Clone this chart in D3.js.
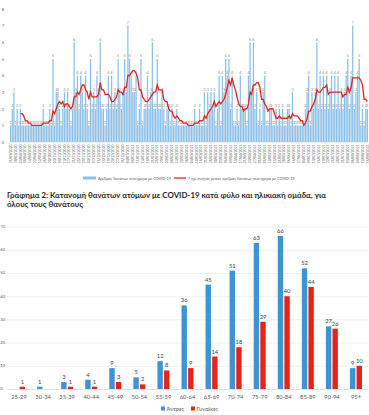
<!DOCTYPE html>
<html lang="el">
<head>
<meta charset="utf-8">
<title>COVID-19 deaths</title>
<script src="https://d3js.org/d3.v7.min.js"></script>
<style>
  body { margin: 0; background: #fff; }
  svg text { font-family: Lato, "Open Sans", sans-serif; }
</style>
</head>
<body>
<script>
// ---- Chart 1: daily deaths (only days with deaths) + 7-day moving average
const dailyDeaths = [
  1,2,3,1,2,1,2,1,1,1,
  1,1,1,1,1,1,1,1,1,1,
  2,1,1,1,2,1,5,1,3,3,
  2,1,2,3,2,3,2,1,2,6,
  3,4,2,4,3,2,4,2,1,5,
  2,3,2,4,3,6,2,2,1,2,
  4,2,4,2,3,2,5,3,2,3,
  5,3,7,5,4,3,3,4,1,2,
  5,1,2,2,4,2,3,6,2,2,
  5,2,2,3,2,1,2,2,1,2,
  1,1,2,1,1,1,1,1,1,1,
  1,1,1,2,1,1,2,1,1,3,
  1,3,2,3,2,3,1,2,4,1,
  4,3,5,4,5,2,4,1,1,2,
  1,4,2,2,2,1,4,6,3,6,
  2,3,1,2,1,3,4,1,1,2,
  2,1,1,2,1,2,1,2,1,1,
  2,2,1,3,1,1,1,1,1,1,
  1,2,3,4,1,3,2,3,6,2,
  4,2,4,2,4,2,3,4,2,4,
  2,4,2,3,2,3,4,5,2,4,
  7,2,3,4,5,1,2,1,2,2
];

const movingAvg = [
  null,null,null,null,null,null,1.71,1.71,1.57,1.29,
  1.29,1.14,1.14,1.00,1.00,1.00,1.00,1.00,1.00,1.00,
  1.14,1.14,1.14,1.14,1.29,1.29,1.86,1.71,2.00,2.29,
  2.43,2.29,2.43,2.14,2.29,2.29,2.14,2.00,2.14,2.71,
  2.71,3.00,2.86,3.14,3.43,3.43,3.14,3.00,2.57,3.00,
  2.71,2.71,2.71,2.71,2.86,3.57,3.14,3.14,2.86,2.86,
  2.86,2.71,2.43,2.43,2.57,2.71,3.14,3.00,3.00,2.86,
  3.29,3.29,4.00,4.00,4.14,4.29,4.29,4.14,3.86,3.14,
  3.14,2.71,2.57,2.43,2.43,2.57,2.71,2.86,3.00,3.00,
  3.43,3.14,3.14,3.14,2.57,2.43,2.43,2.00,1.86,1.86,
  1.57,1.43,1.57,1.43,1.29,1.29,1.14,1.14,1.14,1.00,
  1.00,1.00,1.00,1.14,1.14,1.14,1.29,1.29,1.29,1.57,
  1.43,1.71,1.86,2.00,2.14,2.43,2.14,2.29,2.43,2.29,
  2.43,2.57,2.86,3.29,3.71,3.43,3.86,3.43,3.14,2.71,
  2.29,2.14,2.14,1.86,2.00,2.00,2.29,3.00,2.86,3.43,
  3.43,3.57,3.57,3.29,2.57,2.57,2.29,2.14,1.86,2.00,
  2.00,2.00,1.71,1.43,1.43,1.57,1.43,1.43,1.43,1.43,
  1.43,1.57,1.43,1.71,1.57,1.57,1.57,1.43,1.29,1.29,
  1.00,1.14,1.43,1.86,1.86,2.14,2.29,2.57,3.14,3.00,
  3.00,3.14,3.29,3.29,3.43,2.86,3.00,3.00,3.00,3.00,
  3.00,3.00,3.00,3.00,2.71,2.86,2.86,3.29,3.00,3.29,
  3.86,3.86,3.86,3.86,3.86,3.71,3.43,2.57,2.57,2.43
];

// one date label for every third bar
const dateLabels = [
  "21/03/2020","28/03/2020","03/04/2020","08/04/2020","14/04/2020","22/04/2020","12/05/2020","26/06/2020","20/10/2020","03/11/2020",
  "09/11/2020","13/11/2020","17/11/2020","21/11/2020","25/11/2020","29/11/2020","03/12/2020","07/12/2020","11/12/2020","15/12/2020",
  "19/12/2020","23/12/2020","27/12/2020","31/12/2020","04/01/2021","08/01/2021","11/01/2021","14/01/2021","18/01/2021","21/01/2021",
  "25/01/2021","29/01/2021","03/02/2021","08/02/2021","14/02/2021","20/02/2021","26/02/2021","04/03/2021","10/03/2021","16/03/2021",
  "21/03/2021","26/03/2021","30/03/2021","03/04/2021","06/04/2021","09/04/2021","13/04/2021","17/04/2021","21/04/2021","24/04/2021",
  "27/04/2021","01/05/2021","05/05/2021","10/05/2021","15/05/2021","21/05/2021","28/05/2021","06/06/2021","16/06/2021","27/06/2021",
  "04/07/2021","09/07/2021","13/07/2021","16/07/2021","19/07/2021","22/07/2021","25/07/2021","28/07/2021","31/07/2021","03/08/2021",
  "06/08/2021","09/08/2021","12/08/2021","15/08/2021"
];
const dailyTicks = [0,1,2,3,4,5,6,7,8];
const legend1 = ["Αριθμός θανάτων ανά ημέρα με COVID-19", "7 ημ. κινητός μέσος αριθμός θανάτων ανά ημέρα με COVID-19"];

// ---- Chart 2: deaths by sex and age group
const title2 = ["Γράφημα 2: Κατανομή θανάτων ατόμων με COVID-19 κατά φύλο και ηλικιακή ομάδα, για",
                "όλους τους θανάτους"];
const ageGroups = ["25-29","30-34","35-39","40-44","45-49","50-54","55-59","60-64","65-69","70-74","75-79","80-84","85-89","90-94","95+"];
const men   = [0,1,3,4,9,5,12,36,45,51,63,66,52,27,9];
const women = [1,0,1,1,3,2,8,9,14,18,29,40,44,26,10];
const sexes = ["Άντρες", "Γυναίκες"];
const ageTicks = [0,10,20,30,40,50,60,70];

const BLUE_LIGHT = "#8ec0e6";
const RED = "#e8231c";
const BLUE = "#3f93d2";
const TEXT = "#595959";

const width = 369, height = 415;
const svg = d3.select("body").append("svg")
    .attr("width", width)
    .attr("height", height);

// ===== chart 1 =====
const idx = dailyDeaths.map((d, i) => i);
const x1 = d3.scaleBand().domain(idx).range([10, 368]).paddingInner(0.22);
const y1 = d3.scaleLinear().domain([0, 8]).range([142, 9]);

const g1 = svg.append("g");

g1.append("g")
    .attr("transform", "translate(5,0)")
    .call(d3.axisLeft(y1).tickValues(dailyTicks).tickSize(0).tickPadding(1))
    .call(g => g.select(".domain").remove())
    .call(g => g.selectAll("text").attr("fill", TEXT).style("font-size", "4px"));

g1.append("g").selectAll("rect")
    .data(dailyDeaths)
  .enter().append("rect")
    .attr("x", (d, i) => x1(i))
    .attr("y", d => y1(d))
    .attr("width", x1.bandwidth())
    .attr("height", d => y1(0) - y1(d))
    .attr("fill", BLUE_LIGHT);

g1.append("g").selectAll("text")
    .data(dailyDeaths)
  .enter().append("text")
    .attr("x", (d, i) => x1(i) + x1.bandwidth() / 2)
    .attr("y", d => y1(d) - 1.5)
    .attr("text-anchor", "middle")
    .attr("fill", "#7f7f7f")
    .style("font-size", "3.6px")
    .text(d => d);

const line1 = d3.line()
    .defined(d => d !== null)
    .x((d, i) => x1(i) + x1.bandwidth() / 2)
    .y(d => y1(d));

g1.append("path")
    .datum(movingAvg)
    .attr("d", line1)
    .attr("fill", "none")
    .attr("stroke", RED)
    .attr("stroke-width", 1.3);

g1.append("g")
    .attr("transform", "translate(0,142)")
    .call(d3.axisBottom(x1)
        .tickValues(idx.filter(i => i % 3 === 0))
        .tickFormat((d, i) => dateLabels[i])
        .tickSize(0))
    .call(g => g.select(".domain").attr("stroke", "#d9d9d9").attr("stroke-width", 0.5))
    .call(g => g.selectAll("text")
        .attr("fill", TEXT)
        .style("font-size", "3.4px")
        .attr("text-anchor", "end")
        .attr("transform", "rotate(-90)")
        .attr("x", -2.5)
        .attr("y", 0)
        .attr("dy", "0.35em"));

// legend chart 1
const lg1 = svg.append("g");
lg1.append("rect").attr("x", 83).attr("y", 176.5).attr("width", 13).attr("height", 3).attr("fill", BLUE_LIGHT);
lg1.append("text").attr("x", 98).attr("y", 179.5).attr("fill", TEXT).style("font-size", "3.8px").text(legend1[0]);
lg1.append("line").attr("x1", 174).attr("x2", 186).attr("y1", 178).attr("y2", 178)
    .attr("stroke", RED).attr("stroke-width", 1.3);
lg1.append("text").attr("x", 188).attr("y", 179.5).attr("fill", TEXT).style("font-size", "3.8px").text(legend1[1]);

// ===== chart 2 =====
svg.append("g").selectAll("text")
    .data(title2)
  .enter().append("text")
    .attr("x", 7)
    .attr("y", (d, i) => 197.5 + i * 9)
    .attr("fill", "#1f1f1f")
    .style("font-size", "7.9px")
    .style("font-weight", "bold")
    .text(d => d);

const x2 = d3.scaleBand().domain(ageGroups).range([7, 368]);
const y2 = d3.scaleLinear().domain([0, 70]).range([389, 226.6]);

const g2 = svg.append("g");

// gridlines
g2.append("g")
    .attr("transform", "translate(6,0)")
    .call(d3.axisLeft(y2).tickValues(ageTicks).tickSize(-362).tickFormat(""))
    .call(g => g.select(".domain").remove())
    .call(g => g.selectAll("line").attr("stroke", "#e4e4e4").attr("stroke-width", 0.6));

// tick labels kept inside the left edge
g2.append("g").selectAll("text")
    .data(ageTicks)
  .enter().append("text")
    .attr("x", 0.3)
    .attr("y", d => y2(d))
    .attr("dy", "0.35em")
    .attr("fill", TEXT)
    .style("font-size", "4.2px")
    .text(d => d);

const series = [
  { name: sexes[0], values: men, color: BLUE, dx: -6 },
  { name: sexes[1], values: women, color: RED, dx: 0.6 }
];
const barW = 5.4;

series.forEach(s => {
  const rows = s.values.map((v, i) => ({ age: ageGroups[i], v: v }));
  const gs = g2.append("g");
  gs.selectAll("rect")
      .data(rows)
    .enter().append("rect")
      .attr("x", d => x2(d.age) + x2.bandwidth() / 2 + s.dx)
      .attr("y", d => y2(d.v))
      .attr("width", barW)
      .attr("height", d => y2(0) - y2(d.v))
      .attr("fill", s.color);
  gs.selectAll("text")
      .data(rows.filter(d => d.v > 0))
    .enter().append("text")
      .attr("x", d => x2(d.age) + x2.bandwidth() / 2 + s.dx + barW / 2)
      .attr("y", d => y2(d.v) - 3)
      .attr("text-anchor", "middle")
      .attr("fill", "#404040")
      .style("font-size", "5.8px")
      .text(d => d.v);
});

g2.append("g")
    .attr("transform", "translate(0,389)")
    .call(d3.axisBottom(x2).tickSize(0).tickPadding(6))
    .call(g => g.select(".domain").attr("stroke", "#d9d9d9").attr("stroke-width", 0.6))
    .call(g => g.selectAll("text").attr("fill", TEXT).style("font-size", "5.8px"));

// legend chart 2
const lg2 = svg.append("g");
const legPos = [161, 191];
series.forEach((s, i) => {
  lg2.append("rect").attr("x", legPos[i]).attr("y", 406.5).attr("width", 4).attr("height", 4).attr("fill", s.color);
  lg2.append("text").attr("x", legPos[i] + 5.5).attr("y", 410.7).attr("fill", TEXT)
      .style("font-size", "5.8px").text(s.name);
});
</script>
</body>
</html>
